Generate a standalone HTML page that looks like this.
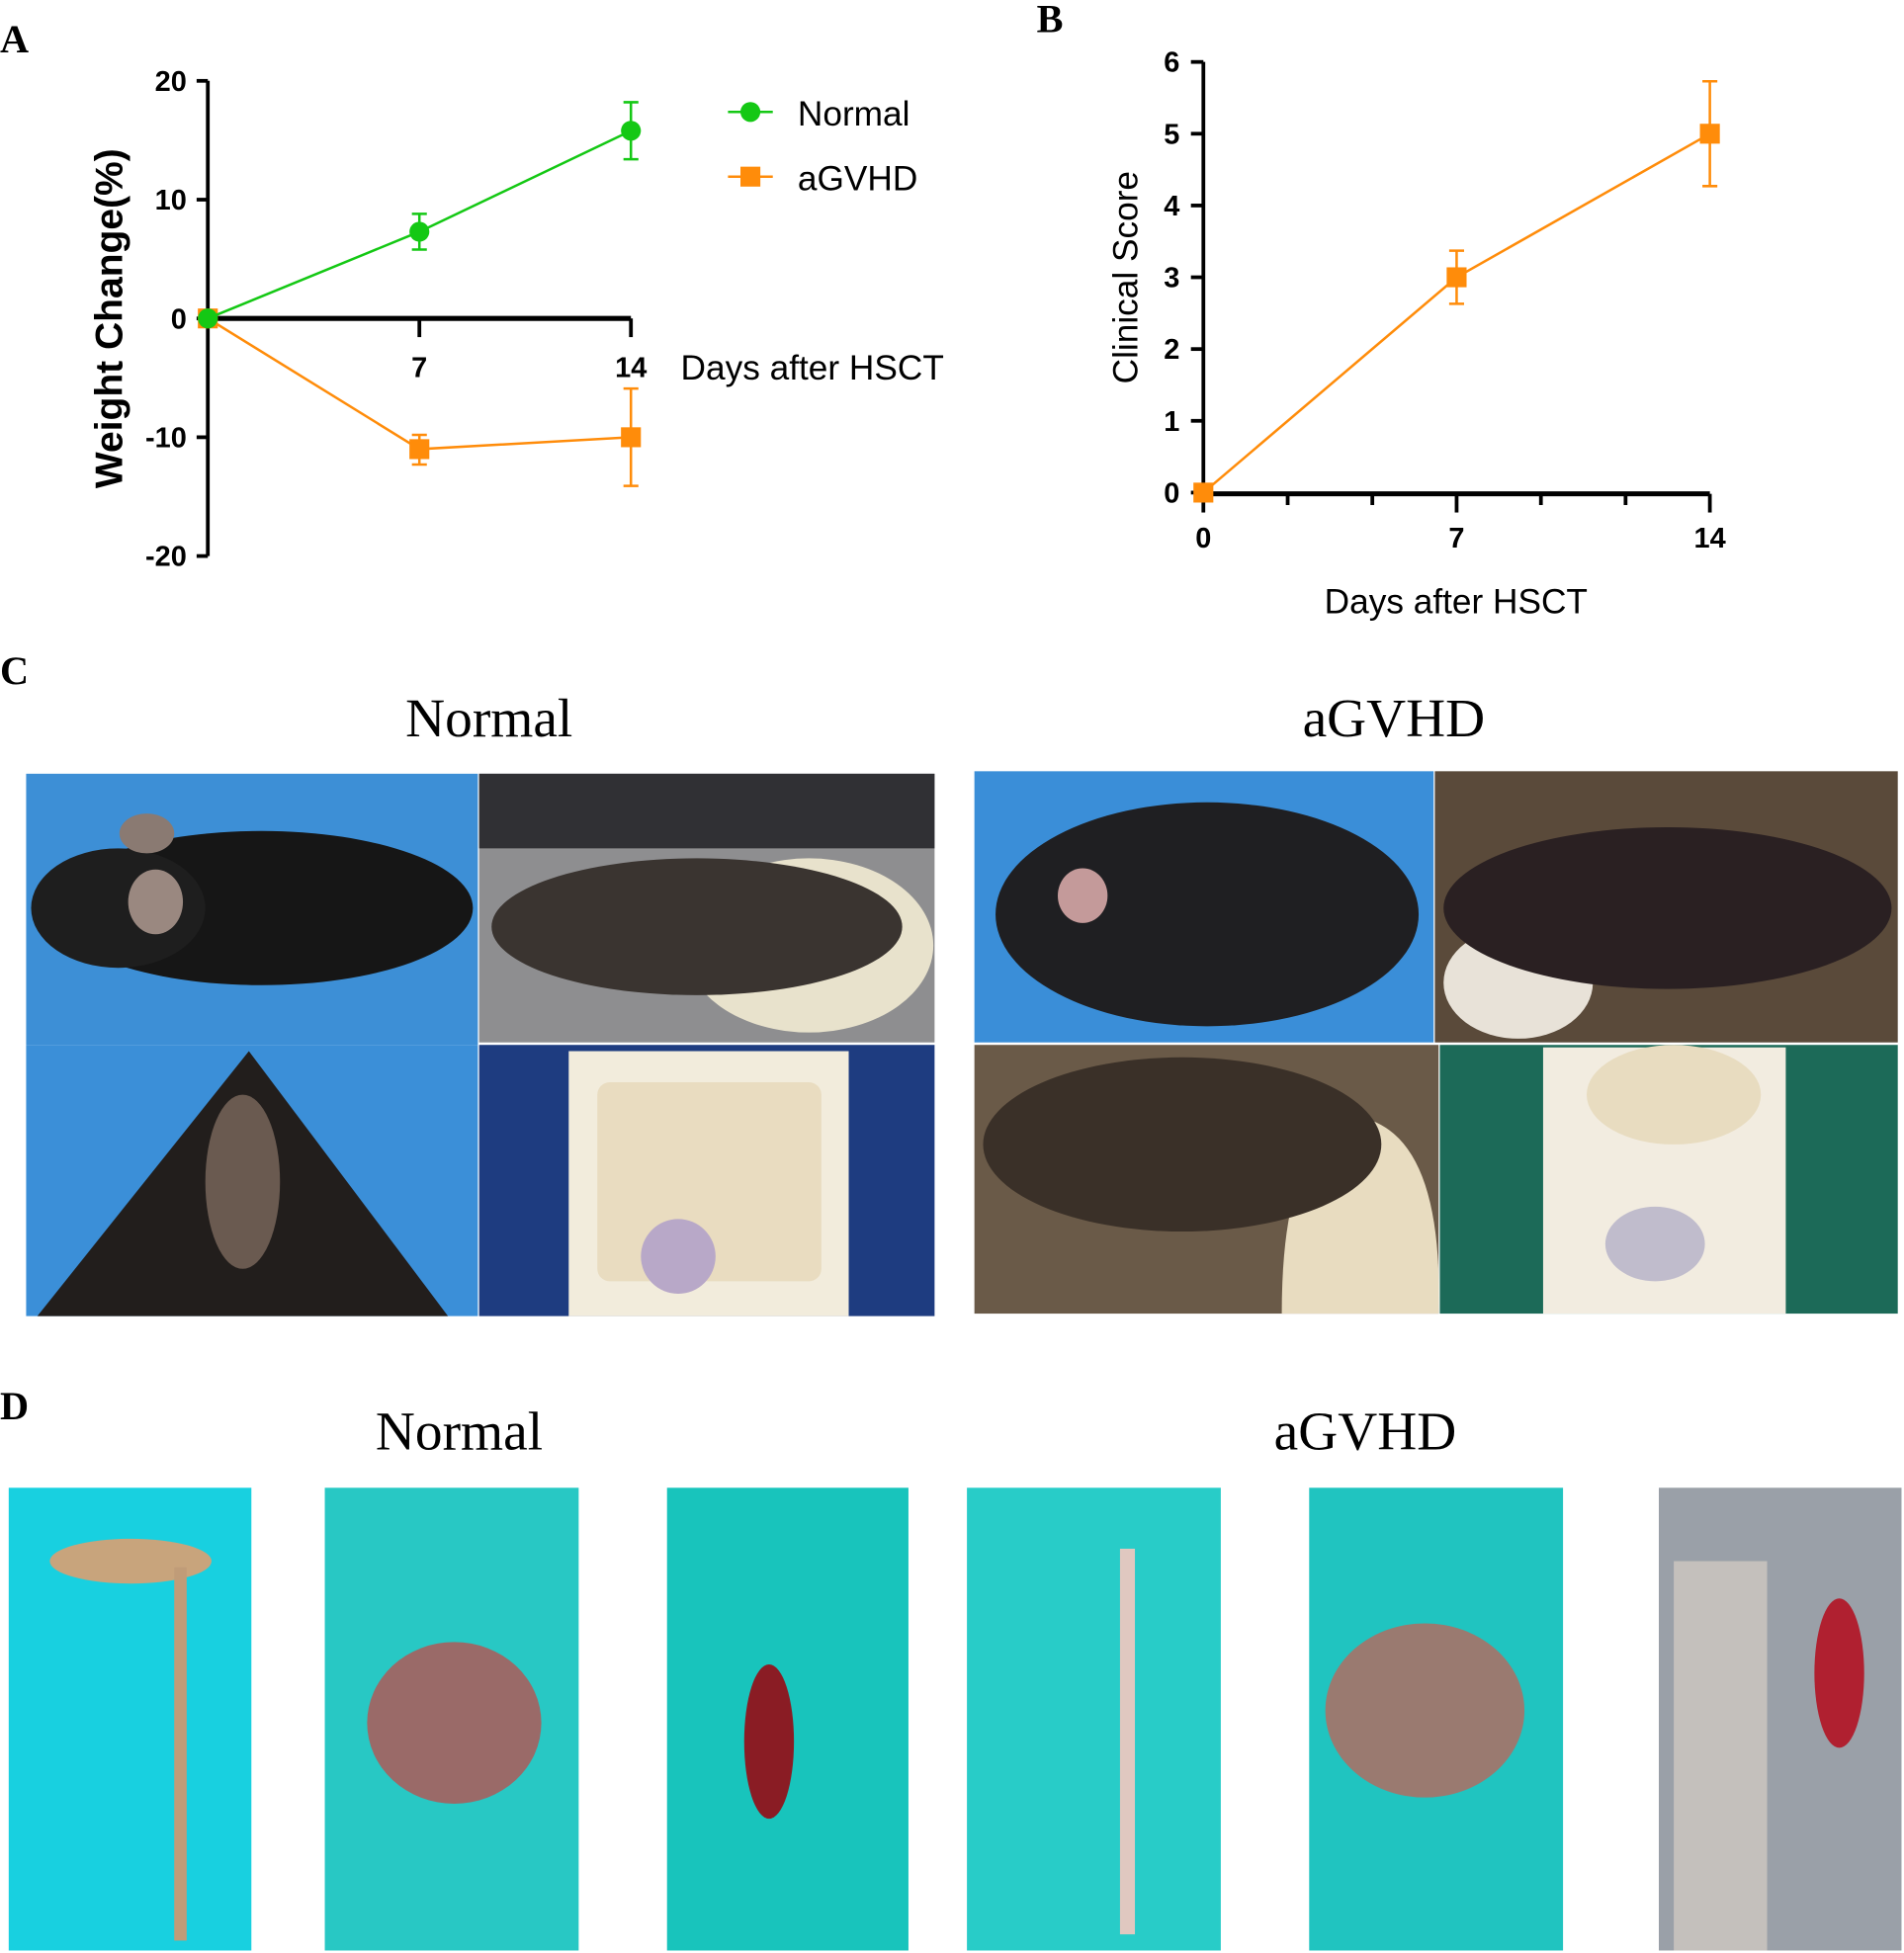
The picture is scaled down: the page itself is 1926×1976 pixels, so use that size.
<!DOCTYPE html>
<html><head><meta charset="utf-8"><style>
html,body{margin:0;padding:0;background:#fff;}
svg{display:block;}
</style></head><body>
<svg id="fig" width="1926" height="1976" viewBox="0 0 1530 1570" preserveAspectRatio="none" xmlns="http://www.w3.org/2000/svg">
<g font-family="Liberation Serif, serif" font-weight="bold" font-size="32">
<text x="0" y="42">A</text>
<text x="833" y="26">B</text>
<text x="0" y="550">C</text>
<text x="0" y="1141">D</text>
</g>
<g id="chartA"></g>
<g id="chartB"></g>

<g font-family="Liberation Serif, serif" font-size="44" text-anchor="middle">
<text x="393" y="592">Normal</text>
<text x="1120" y="592">aGVHD</text>
<text x="369" y="1165">Normal</text>
<text x="1097" y="1165">aGVHD</text>
</g>

<!-- Panel C photos -->
<g>
<rect x="21" y="622" width="363" height="218" fill="#3d8fd6"/>
<ellipse cx="210" cy="730" rx="170" ry="62" fill="#161616"/>
<ellipse cx="95" cy="730" rx="70" ry="48" fill="#1e1e1e"/>
<ellipse cx="118" cy="670" rx="22" ry="16" fill="#8a7a72"/>
<ellipse cx="125" cy="725" rx="22" ry="26" fill="#9a8880"/>
</g>
<g>
<rect x="385" y="622" width="366" height="216" fill="#8e8e90"/>
<rect x="385" y="622" width="366" height="60" fill="#303034"/>
<ellipse cx="650" cy="760" rx="100" ry="70" fill="#e8e2cc"/>
<ellipse cx="560" cy="745" rx="165" ry="55" fill="#3a3430"/>
</g>
<g>
<rect x="21" y="840" width="363" height="218" fill="#3b8fd8"/>
<polygon points="30,1058 200,845 360,1058" fill="#221e1c"/>
<ellipse cx="195" cy="950" rx="30" ry="70" fill="#6a5a50"/>
</g>
<g>
<rect x="385" y="840" width="366" height="218" fill="#1e3c80"/>
<rect x="457" y="845" width="225" height="213" fill="#f2ecdc"/>
<rect x="480" y="870" width="180" height="160" fill="#e9dcc0" rx="10"/>
<circle cx="545" cy="1010" r="30" fill="#b8a8c8"/>
</g>
<g>
<rect x="783" y="620" width="369" height="218" fill="#3a8ed8"/>
<ellipse cx="970" cy="735" rx="170" ry="90" fill="#1f1f22"/>
<ellipse cx="870" cy="720" rx="20" ry="22" fill="#c49a9a"/>
</g>
<g>
<rect x="1153" y="620" width="372" height="218" fill="#5a4a3a"/>
<ellipse cx="1220" cy="790" rx="60" ry="45" fill="#e8e2d8"/>
<ellipse cx="1340" cy="730" rx="180" ry="65" fill="#2a2022"/>
</g>
<g>
<rect x="783" y="840" width="373" height="216" fill="#6a5a48"/>
<path d="M1030,1056 Q1030,900 1100,900 Q1160,920 1156,1056 Z" fill="#e8dcc0"/>
<ellipse cx="950" cy="920" rx="160" ry="70" fill="#3a3028"/>
</g>
<g>
<rect x="1157" y="840" width="368" height="216" fill="#1c6a58"/>
<rect x="1240" y="842" width="195" height="214" fill="#f2ece0"/>
<ellipse cx="1345" cy="880" rx="70" ry="40" fill="#e8dcc0"/>
<ellipse cx="1330" cy="1000" rx="40" ry="30" fill="#c0bccc"/>
</g>

<!-- Panel D photos -->
<g>
<rect x="7" y="1196" width="195" height="372" fill="#18d0e0"/>
<ellipse cx="105" cy="1255" rx="65" ry="18" fill="#c8a47c"/>
<rect x="140" y="1260" width="10" height="300" fill="#c09c78"/>
</g>
<g>
<rect x="261" y="1196" width="204" height="372" fill="#28c8c4"/>
<ellipse cx="365" cy="1385" rx="70" ry="65" fill="#9a6a68"/>
</g>
<g>
<rect x="536" y="1196" width="194" height="372" fill="#18c4bc"/>
<ellipse cx="618" cy="1400" rx="20" ry="62" fill="#8a1c24"/>
</g>
<g>
<rect x="777" y="1196" width="204" height="372" fill="#28ccc8"/>
<rect x="900" y="1245" width="12" height="310" fill="#e0c8c0"/>
</g>
<g>
<rect x="1052" y="1196" width="204" height="372" fill="#20c4c0"/>
<ellipse cx="1145" cy="1375" rx="80" ry="70" fill="#9a7a70"/>
</g>
<g>
<rect x="1333" y="1196" width="195" height="372" fill="#9aa0a8"/>
<rect x="1345" y="1255" width="75" height="313" fill="#c4c0bc"/>
<ellipse cx="1478" cy="1345" rx="20" ry="60" fill="#b02030"/>
</g>

<script>
// Chart A data
var daysA = [0, 7, 14];
var normalMean = [0, 7.3, 15.8];
var normalLo = [0, 5.8, 13.4];
var normalHi = [0, 8.8, 18.2];
var gvhdMean = [0, -11, -10];
var gvhdLo = [0, -12.3, -14.1];
var gvhdHi = [0, -9.8, -5.9];
var yTicksA = [20, 10, 0, -10, -20];
var xTicksA = [7, 14];
// Chart B data
var daysB = [0, 7, 14];
var scoreMean = [0, 3, 5];
var scoreLo = [0, 2.63, 4.27];
var scoreHi = [0, 3.37, 5.73];
var yTicksB = [0, 1, 2, 3, 4, 5, 6];
var xTicksB = [0, 7, 14];
var minorB = [2.33, 4.67, 9.33, 11.67];

var NS = 'http://www.w3.org/2000/svg';
function mk(parent, tag, attrs, txt) {
  var e = document.createElementNS(NS, tag);
  for (var k in attrs) e.setAttribute(k, attrs[k]);
  if (txt !== undefined) e.textContent = txt;
  parent.appendChild(e);
  return e;
}
var GREEN = '#14c814', ORANGE = '#ff8c0a';

// ---- Chart A ----
var A = document.getElementById('chartA');
function axA(d) { return 167 + d * (340 / 14); }
function ayA(v) { return 256 - v * 9.55; }
var e;
e = mk(A, 'line', {x1: 167, y1: ayA(20), x2: 167, y2: ayA(-20), stroke: '#000', 'stroke-width': 3});


e = mk(A, 'line', {x1: 167, y1: 256, x2: axA(14), y2: 256, stroke: '#000', 'stroke-width': 4});


yTicksA.forEach(function (t) {
  mk(A, 'line', {x1: 158, y1: ayA(t), x2: 167, y2: ayA(t), stroke: '#000', 'stroke-width': 3});
  e = mk(A, 'text', {x: 150, y: ayA(t) + 8, 'text-anchor': 'end', 'font-family': 'Liberation Sans, sans-serif', 'font-weight': 'bold', 'font-size': 23}, String(t));
  
  
});
xTicksA.forEach(function (t) {
  mk(A, 'line', {x1: axA(t), y1: 256, x2: axA(t), y2: 271, stroke: '#000', 'stroke-width': 3});
  e = mk(A, 'text', {x: axA(t), y: 303, 'text-anchor': 'middle', 'font-family': 'Liberation Sans, sans-serif', 'font-weight': 'bold', 'font-size': 23}, String(t));
  
  
});
e = mk(A, 'text', {x: 547, y: 305, 'font-family': 'Liberation Sans, sans-serif', 'font-size': 28}, 'Days after HSCT');


e = mk(A, 'text', {x: 0, y: 0, transform: 'translate(98,256) rotate(-90)', 'text-anchor': 'middle', 'font-family': 'Liberation Sans, sans-serif', 'font-weight': 'bold', 'font-size': 31}, 'Weight Change(%)');



function series(g, xs, ys, lo, hi, xf, yf, color, shape, name) {
  var pts = xs.map(function (d, i) { return xf(d) + ',' + yf(ys[i]); }).join(' ');
  e = mk(g, 'polyline', {points: pts, fill: 'none', stroke: color, 'stroke-width': 2});
  
  
  xs.forEach(function (d, i) {
    var x = xf(d);
    if (hi[i] !== lo[i]) {
      e = mk(g, 'path', {d: 'M' + x + ',' + yf(hi[i]) + 'V' + yf(lo[i]) + 'M' + (x - 6) + ',' + yf(hi[i]) + 'h12M' + (x - 6) + ',' + yf(lo[i]) + 'h12', stroke: color, 'stroke-width': 2, fill: 'none'});
      
      
    }
    if (shape === 'c') e = mk(g, 'circle', {cx: x, cy: yf(ys[i]), r: 8, fill: color});
    else e = mk(g, 'rect', {x: x - 8, y: yf(ys[i]) - 8, width: 16, height: 16, fill: color});
    
    
  });
}
series(A, daysA, gvhdMean, gvhdLo, gvhdHi, axA, ayA, ORANGE, 's', 'agvhd');
series(A, daysA, normalMean, normalLo, normalHi, axA, ayA, GREEN, 'c', 'normal');

// legend
mk(A, 'line', {x1: 585, y1: 90, x2: 621, y2: 90, stroke: GREEN, 'stroke-width': 2});
mk(A, 'circle', {cx: 603, cy: 90, r: 8, fill: GREEN});
e = mk(A, 'text', {x: 641, y: 101, 'font-family': 'Liberation Sans, sans-serif', 'font-size': 28}, 'Normal');


mk(A, 'line', {x1: 585, y1: 142, x2: 621, y2: 142, stroke: ORANGE, 'stroke-width': 2});
mk(A, 'rect', {x: 595, y: 134, width: 16, height: 16, fill: ORANGE});
e = mk(A, 'text', {x: 641, y: 153, 'font-family': 'Liberation Sans, sans-serif', 'font-size': 28}, 'aGVHD');



// ---- Chart B ----
var B = document.getElementById('chartB');
function axB(d) { return 967 + d * (407 / 14); }
function ayB(v) { return 396 - v * 57.7; }
e = mk(B, 'line', {x1: 967, y1: ayB(6), x2: 967, y2: 396, stroke: '#000', 'stroke-width': 3});


e = mk(B, 'line', {x1: 967, y1: 397, x2: axB(14), y2: 397, stroke: '#000', 'stroke-width': 4});


yTicksB.forEach(function (t) {
  mk(B, 'line', {x1: 957, y1: ayB(t), x2: 967, y2: ayB(t), stroke: '#000', 'stroke-width': 3});
  e = mk(B, 'text', {x: 948, y: ayB(t) + 8, 'text-anchor': 'end', 'font-family': 'Liberation Sans, sans-serif', 'font-weight': 'bold', 'font-size': 23}, String(t));
  
  
});
xTicksB.forEach(function (t) {
  mk(B, 'line', {x1: axB(t), y1: 397, x2: axB(t), y2: 412, stroke: '#000', 'stroke-width': 3});
  e = mk(B, 'text', {x: axB(t), y: 440, 'text-anchor': 'middle', 'font-family': 'Liberation Sans, sans-serif', 'font-weight': 'bold', 'font-size': 23}, String(t));
  
  
});
minorB.forEach(function (t) {
  mk(B, 'line', {x1: axB(t), y1: 397, x2: axB(t), y2: 406, stroke: '#000', 'stroke-width': 3});
});
e = mk(B, 'text', {x: 1170, y: 493, 'text-anchor': 'middle', 'font-family': 'Liberation Sans, sans-serif', 'font-size': 28}, 'Days after HSCT');


e = mk(B, 'text', {x: 0, y: 0, transform: 'translate(914,223) rotate(-90)', 'text-anchor': 'middle', 'font-family': 'Liberation Sans, sans-serif', 'font-size': 28}, 'Clinical Score');


series(B, daysB, scoreMean, scoreLo, scoreHi, axB, ayB, ORANGE, 's', 'score');
</script>
</svg>
</body></html>
